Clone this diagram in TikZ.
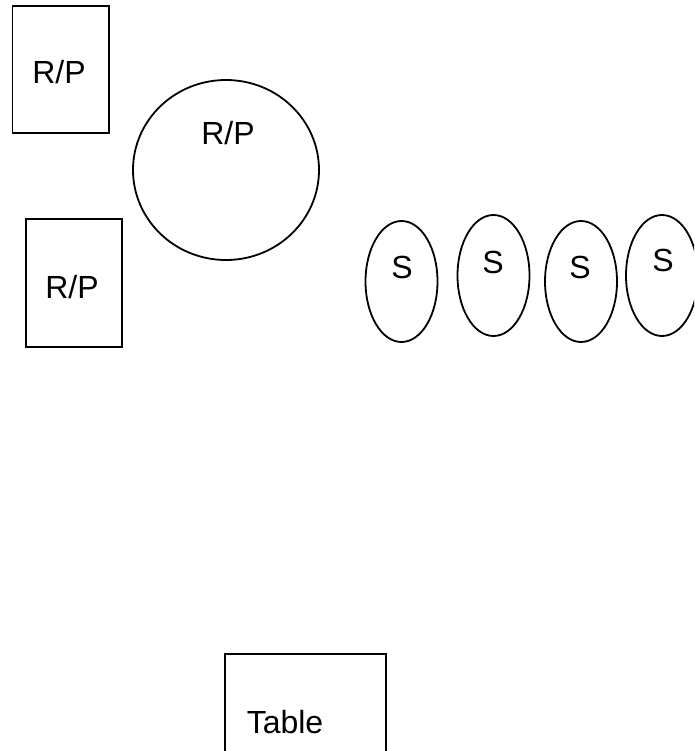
\documentclass[tikz,border=0pt]{standalone}
\usepackage{fontspec}
\setmainfont{Liberation Sans}
\usetikzlibrary{shapes.geometric}

\begin{document}
\begin{tikzpicture}[x=1pt,y=-1pt,font=\fontsize{32}{38}\selectfont,
  box/.style={draw,line width=1.8pt,rectangle,inner sep=0pt},
  seat/.style={draw,line width=1.8pt,ellipse,inner sep=0pt,minimum width=72pt,minimum height=121pt}]
\useasboundingbox (0,0) rectangle (694,751);
\clip (0,0) rectangle (694,751);

% boxes
\node[box,minimum width=96.5pt,minimum height=127pt] (rp1) at (60.75,69.5) {};
\node[box,minimum width=96pt,minimum height=128pt] (rp2) at (74,283) {};
\node[box,minimum width=161pt,minimum height=110pt] (table) at (305.5,709) {};

% round one
\node[draw,line width=1.8pt,ellipse,inner sep=0pt,minimum width=186pt,minimum height=180pt] (rp3) at (226,170) {};

% seats
\node[seat] (s1) at (401.5,281.5) {};
\node[seat] (s2) at (493.5,275.5) {};
\node[seat] (s3) at (581,281.5) {};
\node[seat] (s4) at (662,275.5) {};

% labels
\node (rp1 text) at (59,72) {R/P};
\node (rp2 text) at (72,287) {R/P};
\node (rp3 text) at (228,133) {R/P};
\node (table text) at (285,722) {Table};
\node (s1 text) at (402,267) {S};
\node (s2 text) at (493,262) {S};
\node (s3 text) at (580,267) {S};
\node (s4 text) at (663,260) {S};

\end{tikzpicture}
\end{document}
